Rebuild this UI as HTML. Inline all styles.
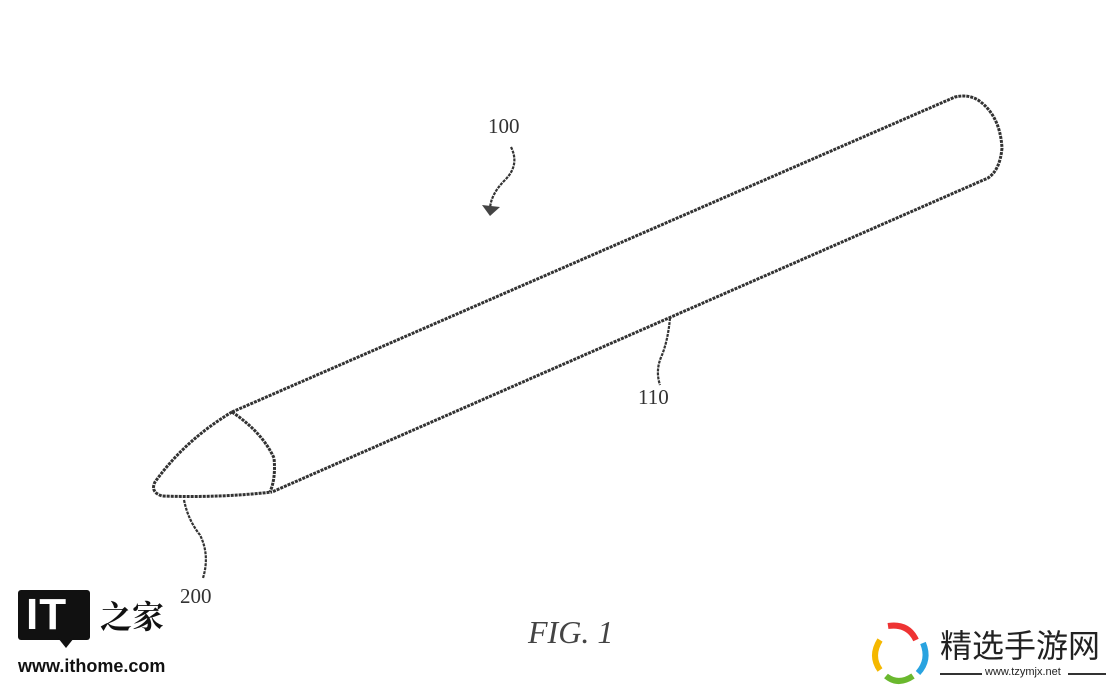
<!DOCTYPE html>
<html><head><meta charset="utf-8"><style>
html,body{margin:0;padding:0;background:#fff;}
body{width:1117px;height:689px;position:relative;overflow:hidden;}
.t{position:absolute;font-family:"Liberation Serif",serif;color:#333;white-space:nowrap;}
</style></head><body>
<svg width="1117" height="689" style="position:absolute;left:0;top:0">
<g fill="none" stroke="#333" stroke-width="3" stroke-dasharray="3 1" stroke-linecap="butt" stroke-linejoin="round">
<path d="M232,412 L955,97 Q968,94 978,100 Q1000,115 1002,148 Q1000,170 988,178 L272,492"/>
<path d="M232,412 Q185,440 155,482 Q150,492 162,496 Q220,498 272,492"/>
<path d="M232,412 Q262,432 274,458 Q276,478 270,492"/>
<path d="M511,147 Q520,165 505,180 Q490,195 490,210" stroke-width="2.2"/>
<path d="M670,318 Q668,340 662,355 Q655,370 660,385" stroke-width="2.2"/>
<path d="M184,500 Q188,520 200,535 Q210,555 203,578" stroke-width="2.2"/>
</g>
<path d="M482,205 L500,207 L490,216 Z" fill="#444"/>
</svg>
<div class="t" style="left:488px;top:114px;font-size:21px">100</div>
<div class="t" style="left:638px;top:385px;font-size:21px">110</div>
<div class="t" style="left:180px;top:584px;font-size:21px">200</div>
<div class="t" style="left:528px;top:614px;font-size:32px;font-style:italic;color:#444">FIG. 1</div>
<div style="position:absolute;left:18px;top:590px;width:72px;height:50px;background:#111;border-radius:3px"></div>
<div style="position:absolute;left:58px;top:638px;width:0;height:0;border-left:8px solid transparent;border-right:8px solid transparent;border-top:10px solid #111"></div>
<div style="position:absolute;left:26px;top:590px;font:bold 44px 'Liberation Sans',sans-serif;color:#fff;line-height:50px;letter-spacing:1px">IT</div>
<div style="position:absolute;left:100px;top:592px;font:bold 32px 'Noto Serif CJK SC',serif;color:#111;line-height:46px;white-space:nowrap">之家</div>
<div style="position:absolute;left:18px;top:656px;font:bold 18px 'Liberation Sans',sans-serif;color:#111">www.ithome.com</div>
<svg width="70" height="70" style="position:absolute;left:868px;top:618px">
<path d="M20,8 Q40,5 48,22" stroke="#e33" stroke-width="6" fill="none"/>
<path d="M55,25 Q62,42 50,55" stroke="#29a3e0" stroke-width="6" fill="none"/>
<path d="M45,58 Q30,68 18,58" stroke="#6ab82e" stroke-width="6" fill="none"/>
<path d="M12,52 Q2,38 12,22" stroke="#f5b800" stroke-width="6" fill="none"/>
</svg>
<div style="position:absolute;left:940px;top:622px;font:32px 'Noto Sans CJK SC',sans-serif;color:#222;line-height:44px;white-space:nowrap">精选手游网</div>
<div style="position:absolute;left:940px;top:673px;width:42px;height:2px;background:#333"></div>
<div style="position:absolute;left:1068px;top:673px;width:38px;height:2px;background:#333"></div>
<div style="position:absolute;left:985px;top:666px;font:11px 'Liberation Sans',sans-serif;color:#222;white-space:nowrap">www.tzymjx.net</div>
</body></html>
